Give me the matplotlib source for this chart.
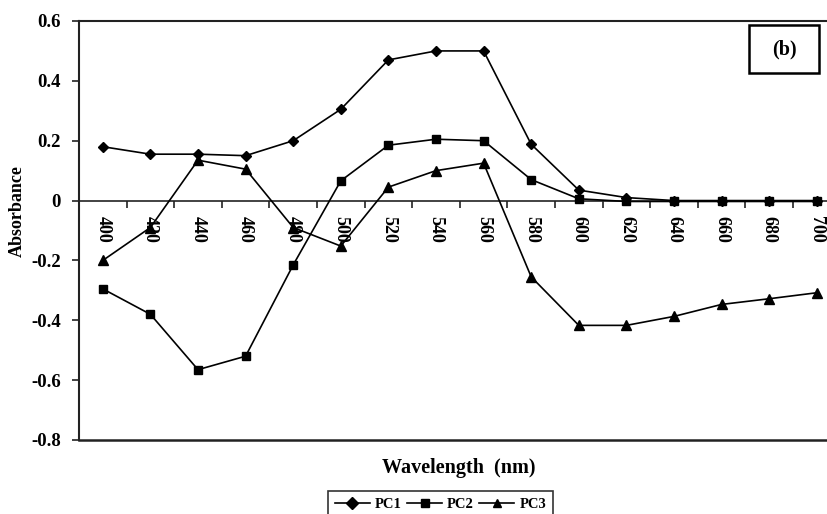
import matplotlib
matplotlib.use("Agg")
import matplotlib.pyplot as plt
from matplotlib.patches import Rectangle
import numpy as np

wavelengths = ["400", "420", "440", "460", "480", "500", "520", "540", "560",
               "580", "600", "620", "640", "660", "680", "700"]
pc1 = [0.18, 0.155, 0.155, 0.15, 0.2, 0.305, 0.47, 0.5, 0.5, 0.188, 0.035,
       0.01, 0.0, 0.0, 0.0, 0.0]
pc2 = [-0.295, -0.38, -0.565, -0.52, -0.215, 0.066, 0.185, 0.205, 0.2, 0.07,
       0.006, -0.003, -0.003, -0.003, -0.003, -0.003]
pc3 = [-0.2, -0.09, 0.135, 0.105, -0.09, -0.152, 0.045, 0.1, 0.125, -0.255,
       -0.417, -0.417, -0.387, -0.347, -0.328, -0.308]
yticks = [-0.8, -0.6, -0.4, -0.2, 0.0, 0.2, 0.4, 0.6]
ytick_labels = ["-0.8", "-0.6", "-0.4", "-0.2", "0", "0.2", "0.4", "0.6"]

plt.rcParams['font.family'] = ['Liberation Serif', 'DejaVu Serif']
plt.rcParams['font.weight'] = 'bold'

W, H = 827, 514
fig = plt.figure(figsize=(W / 100, H / 100), dpi=100)
ax_left, ax_top, ax_bottom = 79, 21, 440
cat_w = 47.6
ax_width = 16 * cat_w
ax = fig.add_axes([ax_left / W, 1 - ax_bottom / H, ax_width / W, (ax_bottom - ax_top) / H])

x = np.arange(len(wavelengths))
lw = 1.2
ax.plot(x, pc1, color='black', lw=lw, marker='D', ms=5.5, label='PC1', zorder=3)
ax.plot(x, pc2, color='black', lw=lw, marker='s', ms=6, label='PC2', zorder=3)
ax.plot(x, pc3, color='black', lw=lw, marker='^', ms=7.5, label='PC3', zorder=3)

ax.set_xlim(-0.5, len(wavelengths) - 0.5)
ax.set_ylim(-0.8, 0.6)

spine_col = '#222222'
for s in ['left', 'top', 'bottom']:
    ax.spines[s].set_color(spine_col)
    ax.spines[s].set_linewidth(1.5)
ax.spines['right'].set_visible(False)
ax.spines['bottom'].set_position(('data', 0))
ax.spines['bottom'].set_linewidth(1.2)
ax.axhline(-0.8, color=spine_col, lw=1.8, clip_on=False, zorder=5)

ax.set_xticks(x)
ax.set_xticklabels(wavelengths, rotation=-90, fontsize=13, fontweight='bold')
ax.set_xticks(np.arange(-0.5, len(wavelengths)), minor=True)
ax.tick_params(axis='x', which='major', length=0, pad=11)
ax.tick_params(axis='x', which='minor', length=5, width=1.2, direction='out', color=spine_col)

ax.set_yticks(yticks)
ax.set_yticklabels(ytick_labels, fontsize=13.5, fontweight='bold')
ax.tick_params(axis='y', length=5, width=1.2, direction='out', pad=8, color=spine_col)

fig.text(459 / W, 1 - 468 / H, "Wavelength  (nm)", ha='center', va='center',
         fontsize=14.5, fontweight='bold')
fig.text(17 / W, 1 - 211 / H, "Absorbance", ha='center', va='center',
         rotation=90, fontsize=13, fontweight='bold')

# (b) box
bx0, by0, bx1, by1 = 749, 25, 819, 73
fig.add_artist(Rectangle((bx0 / W, 1 - by1 / H), (bx1 - bx0) / W, (by1 - by0) / H,
                         transform=fig.transFigure, fill=False, lw=1.8,
                         edgecolor='black'))
fig.text((bx0 + bx1) / 2 / W, 1 - 49 / H, "(b)", ha='center', va='center',
         fontsize=14.5, fontweight='bold')

leg = fig.legend(loc='upper center', bbox_to_anchor=(440.5 / W, 1 - 491 / H),
                 ncol=3, frameon=True, fancybox=False, edgecolor='black',
                 prop={'family': 'Liberation Serif', 'weight': 'bold', 'size': 10.5},
                 handlelength=2.4, handletextpad=0.35, columnspacing=0.35,
                 borderpad=0.5, borderaxespad=0)
leg.get_frame().set_linewidth(1.2)
for h in leg.legend_handles:
    h.set_markersize(6)

fig.savefig("out.png", dpi=100)
